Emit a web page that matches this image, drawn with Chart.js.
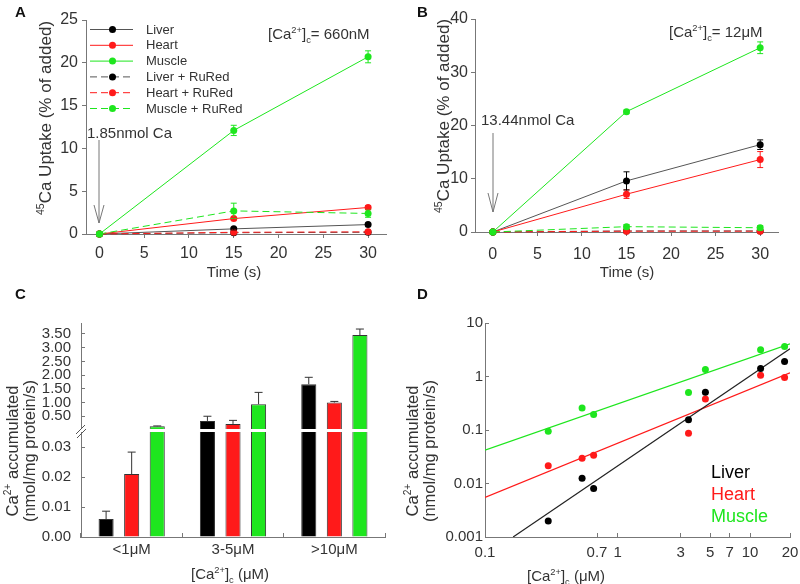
<!DOCTYPE html>
<html>
<head>
<meta charset="utf-8">
<script src="https://cdn.jsdelivr.net/npm/chart.js@4/dist/chart.umd.min.js"></script>
<style>
  body { margin:0; background:#fff; width:800px; height:584px; position:relative; overflow:hidden;
         font-family: Arial, "Liberation Sans", sans-serif; color:#333; }
  canvas { position:absolute; }
  .t { position:absolute; white-space:nowrap; line-height:1; font-size:15px; }
  .c { transform: translate(-50%, -50%); }
  .v { transform: translate(-50%, -50%) rotate(-90deg); text-align:center; }
  .lab { font-weight:bold; font-size:15px; color:#111; }
  sup, sub { font-size:0.62em; line-height:0; }
  svg { position:absolute; left:0; top:0; }
</style>
</head>
<body>
<canvas id="chartA" width="356" height="260" style="left:40px;top:10px"></canvas>
<canvas id="chartB" width="358" height="262" style="left:430px;top:8px"></canvas>
<canvas id="chartCu" width="365" height="116" style="left:30px;top:313px"></canvas>
<canvas id="chartCl" width="365" height="145" style="left:30px;top:431px"></canvas>
<canvas id="chartD" width="370" height="263" style="left:430px;top:313px"></canvas>

<svg width="800" height="584">
  <!-- arrows -->
  <g stroke="#777" stroke-width="1" fill="none">
    <line x1="99" y1="140" x2="99" y2="223"/>
    <polyline points="94,205 99,223 104,205"/>
    <line x1="493" y1="133" x2="493" y2="212"/>
    <polyline points="488,193 493,212 498,193"/>
  </g>
  <!-- axis break C -->
  <g stroke="#555" stroke-width="1">
    <line x1="76" y1="434" x2="85" y2="425"/>
    <line x1="77" y1="438" x2="86" y2="429"/>
  </g>
  <g id="legA"></g>
</svg>

<div class="t lab" style="left:15px;top:4px">A</div>
<div class="t lab" style="left:417px;top:4px">B</div>
<div class="t lab" style="left:15px;top:286px">C</div>
<div class="t lab" style="left:417px;top:286px">D</div>

<div class="t v" style="left:45px;top:118px;font-size:17px"><sup>45</sup>Ca Uptake (% of added)</div>
<div class="t c" style="left:234px;top:271px">Time (s)</div>
<div class="t" style="left:268px;top:26px">[Ca<sup>2+</sup>]<sub>c</sub>= 660nM</div>
<div class="t" style="left:87px;top:125px">1.85nmol Ca</div>

<div class="t v" style="left:443px;top:116px;font-size:17px"><sup>45</sup>Ca Uptake (% of added)</div>
<div class="t c" style="left:627px;top:271px">Time (s)</div>
<div class="t" style="left:669px;top:24px">[Ca<sup>2+</sup>]<sub>c</sub>= 12μM</div>
<div class="t" style="left:481px;top:112px">13.44nmol Ca</div>

<div class="t v" style="left:12px;top:451px;font-size:16.5px">Ca<sup>2+</sup> accumulated</div>
<div class="t v" style="left:29px;top:451px;font-size:16.5px">(nmol/mg protein/s)</div>
<div class="t c" style="left:230px;top:573px">[Ca<sup>2+</sup>]<sub>c</sub> (μM)</div>

<div class="t v" style="left:412px;top:451px;font-size:16.5px">Ca<sup>2+</sup> accumulated</div>
<div class="t v" style="left:429px;top:451px;font-size:16.5px">(nmol/mg protein/s)</div>
<div class="t c" style="left:566px;top:575px">[Ca<sup>2+</sup>]<sub>c</sub> (μM)</div>

<div class="t" style="left:711px;top:463px;font-size:18px;color:#000">Liver</div>
<div class="t" style="left:711px;top:485px;font-size:18px;color:#ff1a1a">Heart</div>
<div class="t" style="left:711px;top:507px;font-size:18px;color:#1ee61e">Muscle</div>

<div id="legAText"></div>

<script>
// ---- data: panel A (660 nM) ----
const TIME = [0, 15, 30];
const A_LIVER = [0, 0.6, 1.1];
const A_LIVER_ERR = [0, 0.12, 0.15];
const A_HEART = [0, 1.8, 3.1];
const A_HEART_ERR = [0, 0.15, 0.2];
const A_MUSCLE = [0, 12.1, 20.7];
const A_MUSCLE_ERR = [0, 0.6, 0.7];
const A_LIVER_RU = [0, 0.15, 0.2];
const A_HEART_RU = [0, 0.2, 0.25];
const A_MUSCLE_RU = [0, 2.7, 2.4];
const A_MUSCLE_RU_ERR = [0, 0.9, 0.45];
const A_X_TICKS = [0, 5, 10, 15, 20, 25, 30];
const A_Y_TICKS = [0, 5, 10, 15, 20, 25];

// ---- data: panel B (12 uM) ----
const B_LIVER = [0, 9.6, 16.4];
const B_LIVER_ERR = [0, 1.7, 0.9];
const B_HEART = [0, 7.1, 13.6];
const B_HEART_ERR = [0, 0.8, 1.5];
const B_MUSCLE = [0, 22.6, 34.6];
const B_MUSCLE_ERR = [0, 0.3, 1.1];
const B_LIVER_RU = [0, 0.2, 0.2];
const B_HEART_RU = [0, 0.15, 0.15];
const B_MUSCLE_RU = [0, 1.0, 0.8];
const B_MUSCLE_RU_ERR = [0, 0.4, 0.4];
const B_Y_TICKS = [0, 10, 20, 30, 40];

// ---- data: panel C (bars, broken axis) ----
const C_GROUPS = ['<1μM', '3-5μM', '>10μM'];
const C_LIVER = [0.006, 0.33, 1.67];
const C_LIVER_ERR = [0.0026, 0.17, 0.25];
const C_HEART = [0.021, 0.22, 1.0];
const C_HEART_ERR = [0.0073, 0.13, 0.04];
const C_MUSCLE = [0.135, 0.94, 3.46];
const C_MUSCLE_ERR = [0.012, 0.43, 0.22];
const C_BREAK = 0.035;
const C_UPPER_TICKS = [0.5, 1, 1.5, 2, 2.5, 3, 3.5];
const C_LOWER_TICKS = [0, 0.01, 0.02, 0.03];

// ---- data: panel D (log-log) ----
const D_CA = [0.3, 0.54, 0.66, 3.43, 4.6, 12, 18.2];
const D_LIVER = [0.002, 0.0125, 0.0081, 0.155, 0.51, 1.41, 1.91];
const D_HEART = [0.0214, 0.0295, 0.0337, 0.087, 0.38, 1.06, 0.96];
const D_MUSCLE = [0.095, 0.257, 0.195, 0.50, 1.35, 3.17, 3.62];
const D_FIT_LIVER_X = [0.163, 20];
const D_FIT_LIVER_Y = [0.001, 3.3];
const D_FIT_HEART_X = [0.1, 20];
const D_FIT_HEART_Y = [0.0055, 1.17];
const D_FIT_MUSCLE_X = [0.1, 20];
const D_FIT_MUSCLE_Y = [0.042, 4.07];
const D_X_TICKS = [0.1, 0.7, 1, 3, 5, 7, 10, 20];
const D_Y_TICKS = [0.001, 0.01, 0.1, 1, 10];

const BLACK = '#000', RED = '#ff1a1a', GREEN = '#1ee61e';
const AXIS = '#777';

Chart.defaults.font.family = 'Arial, "Liberation Sans", sans-serif';
Chart.defaults.font.size = 15;
Chart.defaults.color = '#333';
Chart.defaults.animation = false;

// error bars (vertical, using the chart's own scales)
const errorBars = {
  id: 'errorBars',
  afterDatasetsDraw(chart) {
    const ctx = chart.ctx;
    chart.data.datasets.forEach((ds, i) => {
      if (!ds.err) return;
      const meta = chart.getDatasetMeta(i);
      const ys = chart.scales[meta.yAxisID];
      meta.data.forEach((el, j) => {
        const e = ds.err[j];
        const raw = ds.data[j];
        const v = raw == null ? null : (typeof raw === 'object' ? raw.y : raw);
        if (!e || v == null || v > ys.max || v < ys.min) return;
        const x = el.x;
        const top = ys.getPixelForValue(v + e);
        const bot = ds.upOnly ? ys.getPixelForValue(v) : ys.getPixelForValue(Math.max(v - e, ys.min));
        const cap = ds.capW || 3;
        ctx.save();
        ctx.strokeStyle = ds.errColor || ds.borderColor;
        ctx.lineWidth = 1;
        ctx.beginPath();
        ctx.moveTo(x, top); ctx.lineTo(x, bot);
        ctx.moveTo(x - cap, top); ctx.lineTo(x + cap, top);
        if (!ds.upOnly) { ctx.moveTo(x - cap, bot); ctx.lineTo(x + cap, bot); }
        ctx.stroke();
        ctx.restore();
      });
    });
  }
};

function fixAxis(size, vertical) {
  return s => {
    if (vertical) s.width = size; else s.height = size;
    s.paddingTop = 0; s.paddingBottom = 0; s.paddingLeft = 0; s.paddingRight = 0;
  };
}
function setTicks(list) { return s => { s.ticks = list.map(v => ({ value: v })); }; }
function axisStyle(tickLen, pad, size) {
  return {
    border: { display: true, color: AXIS, width: 1 },
    grid: { display: true, drawOnChartArea: false, drawTicks: true, tickLength: tickLen, color: AXIS },
    ticks: { color: '#333', padding: pad, font: { size: size || 15 }, maxRotation: 0, autoSkip: false }
  };
}

function timeSeries(ys, err, color, lineColor, dashed) {
  return {
    data: TIME.map((t, k) => ({ x: t, y: ys[k] })),
    err: err,
    borderColor: lineColor, backgroundColor: color,
    pointBackgroundColor: color, pointBorderColor: color,
    pointRadius: 3.5, pointBorderWidth: 0, borderWidth: 1,
    borderDash: dashed ? [7, 4] : [],
    errColor: color, capW: 3,
    clip: false
  };
}

function timeChart(id, sets, xMin, xMax, yMax, yTicks, yW, xH, padTop, xPad, yPad) {
  const x = axisStyle(4, xPad, 16), y = axisStyle(4, yPad, 16);
  return new Chart(document.getElementById(id), {
    type: 'line',
    data: { datasets: sets },
    options: {
      responsive: false,
      layout: { padding: { top: padTop, right: 10, left: 0, bottom: 0 } },
      plugins: { legend: { display: false }, tooltip: { enabled: false } },
      scales: {
        x: Object.assign(x, { type: 'linear', min: xMin, max: xMax,
             afterBuildTicks: setTicks(A_X_TICKS), afterFit: fixAxis(xH, false) }),
        y: Object.assign(y, { min: 0, max: yMax,
             afterBuildTicks: setTicks(yTicks), afterFit: fixAxis(yW, true) })
      }
    },
    plugins: [errorBars]
  });
}

// ---- A ----
timeChart('chartA', [
  timeSeries(A_MUSCLE, A_MUSCLE_ERR, GREEN, GREEN, false),
  timeSeries(A_MUSCLE_RU, A_MUSCLE_RU_ERR, GREEN, GREEN, true),
  timeSeries(A_HEART, A_HEART_ERR, RED, RED, false),
  timeSeries(A_HEART_RU, null, RED, RED, true),
  timeSeries(A_LIVER, A_LIVER_ERR, BLACK, '#555', false),
  timeSeries(A_LIVER_RU, null, BLACK, '#555', true)
], -1.5, 32, 25, A_Y_TICKS, 46, 36, 10, 6, 4);

// ---- B ----
timeChart('chartB', [
  timeSeries(B_MUSCLE, B_MUSCLE_ERR, GREEN, GREEN, false),
  timeSeries(B_MUSCLE_RU, B_MUSCLE_RU_ERR, GREEN, GREEN, true),
  timeSeries(B_HEART_RU, null, RED, RED, true),
  timeSeries(B_LIVER_RU, null, BLACK, '#555', true),
  timeSeries(B_HEART, B_HEART_ERR, RED, RED, false),
  timeSeries(B_LIVER, B_LIVER_ERR, BLACK, '#555', false)
], -2, 32, 40, B_Y_TICKS, 45, 38, 11, 9, 3);

// ---- A legend (line samples in svg, labels as text) ----
const LEG_A = [
  ['Liver', '#555', BLACK, false], ['Heart', RED, RED, false], ['Muscle', GREEN, GREEN, false],
  ['Liver + RuRed', '#555', BLACK, true], ['Heart + RuRed', RED, RED, true], ['Muscle + RuRed', GREEN, GREEN, true]
];
(function () {
  const g = document.getElementById('legA');
  const box = document.getElementById('legAText');
  let svg = '', html = '';
  LEG_A.forEach((row, k) => {
    const y = 29.5 + k * 15.8;
    svg += `<line x1="90" y1="${y}" x2="133" y2="${y}" stroke="${row[1]}" stroke-width="1" ${row[3] ? 'stroke-dasharray="7,4"' : ''}/>`;
    svg += `<circle cx="112.5" cy="${y}" r="3.5" fill="${row[2]}"/>`;
    html += `<div class="t" style="left:146px;top:${y - 7}px;font-size:13px">${row[0]}</div>`;
  });
  g.innerHTML = svg;
  box.innerHTML = html;
})();

// ---- C (two stacked charts for the broken axis) ----
function barSets(filter) {
  const mk = (vals, err, color) => ({
    data: vals.map(filter), err: err, upOnly: true, capW: 4, errColor: '#333',
    backgroundColor: color, borderColor: '#333', borderWidth: 1
  });
  return [mk(C_LIVER, C_LIVER_ERR, BLACK), mk(C_HEART, C_HEART_ERR, RED), mk(C_MUSCLE, C_MUSCLE_ERR, GREEN)];
}
function barOpts(yMin, yMax, yTicks, showX, padTop) {
  const x = axisStyle(-4, 8), y = axisStyle(-4, 14);
  x.grid.offset = true;
  return {
    responsive: false,
    layout: { padding: { top: padTop, right: 10, left: 0, bottom: 0 } },
    plugins: { legend: { display: false }, tooltip: { enabled: false } },
    datasets: { bar: { barPercentage: 0.59, categoryPercentage: 0.757 } },
    scales: {
      x: Object.assign(x, { display: showX, afterFit: fixAxis(showX ? 39 : 0, false) }),
      y: Object.assign(y, { min: yMin, max: yMax,
           afterBuildTicks: setTicks(yTicks), afterFit: fixAxis(51, true),
           ticks: Object.assign(y.ticks, { callback: v => Number(v).toFixed(2) }) })
    }
  };
}
new Chart(document.getElementById('chartCu'), {
  type: 'bar',
  data: { labels: C_GROUPS, datasets: barSets(v => v > C_BREAK ? v : null) },
  options: barOpts(C_BREAK, 3.9, C_UPPER_TICKS, false, 10),
  plugins: [errorBars]
});
new Chart(document.getElementById('chartCl'), {
  type: 'bar',
  data: { labels: C_GROUPS, datasets: barSets(v => v) },
  options: barOpts(0, C_BREAK, C_LOWER_TICKS, true, 1),
  plugins: [errorBars]
});

// ---- D ----
const pts = (ys, color) => ({
  type: 'scatter', data: D_CA.map((c, k) => ({ x: c, y: ys[k] })),
  pointRadius: 3.5, pointBorderWidth: 0, backgroundColor: color, pointBackgroundColor: color, showLine: false
});
const fit = (xs, ys, color) => ({
  type: 'line', data: xs.map((c, k) => ({ x: c, y: ys[k] })),
  borderColor: color, borderWidth: 1.2, pointRadius: 0, fill: false
});
(function () {
  const x = axisStyle(-4, 11), y = axisStyle(-4, 6);
  new Chart(document.getElementById('chartD'), {
    type: 'scatter',
    data: { datasets: [
      pts(D_LIVER, BLACK), pts(D_HEART, RED), pts(D_MUSCLE, GREEN),
      fit(D_FIT_LIVER_X, D_FIT_LIVER_Y, '#222'), fit(D_FIT_HEART_X, D_FIT_HEART_Y, RED),
      fit(D_FIT_MUSCLE_X, D_FIT_MUSCLE_Y, GREEN)
    ] },
    options: {
      responsive: false,
      layout: { padding: { top: 10, right: 10, left: 0, bottom: 0 } },
      plugins: { legend: { display: false }, tooltip: { enabled: false } },
      scales: {
        x: Object.assign(x, { type: 'logarithmic', min: 0.1, max: 20,
             afterBuildTicks: setTicks(D_X_TICKS), afterFit: fixAxis(39, false),
             ticks: Object.assign(x.ticks, { callback: v => String(v) }) }),
        y: Object.assign(y, { type: 'logarithmic', min: 0.001, max: 10,
             afterBuildTicks: setTicks(D_Y_TICKS), afterFit: fixAxis(55, true),
             ticks: Object.assign(y.ticks, { callback: v => String(v) }) })
      }
    }
  });
})();
</script>
</body>
</html>
